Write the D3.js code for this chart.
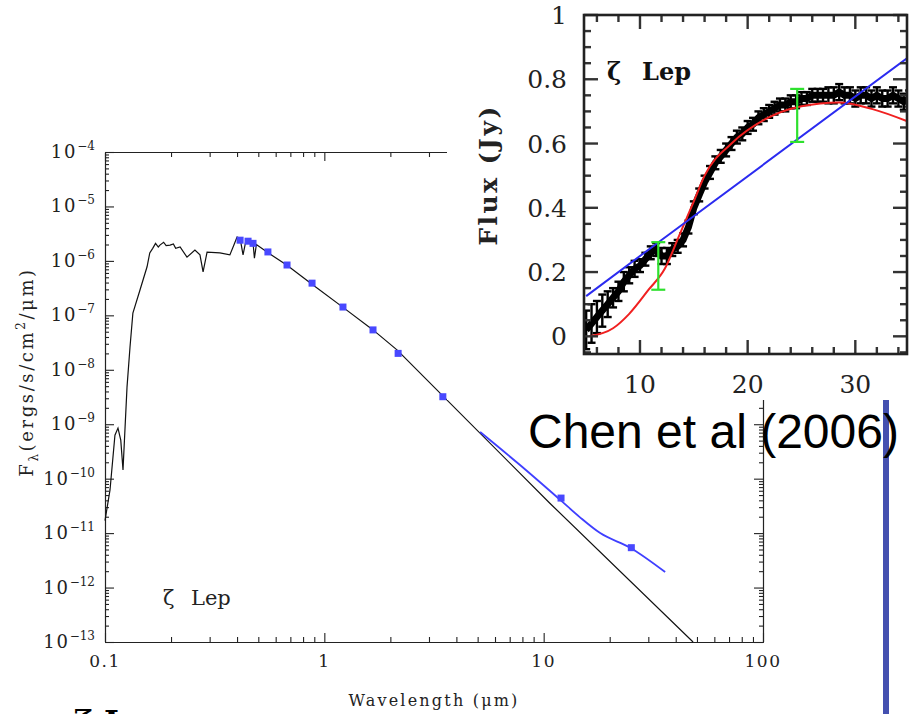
<!DOCTYPE html>
<html>
<head>
<meta charset="utf-8">
<script src="https://cdn.jsdelivr.net/npm/d3@7"></script>
<style>
  body { margin: 0; background: #fff; }
  svg { display: block; }
</style>
</head>
<body>
<svg id="chart" width="915" height="714"></svg>
<script>
// ---- main SED (log-log) ----
// model photosphere
const modelWave = [0.1, 0.1054, 0.111, 0.1146, 0.118, 0.1208, 0.126, 0.130, 0.134, 0.1445, 0.1555, 0.160, 0.165, 0.170, 0.175, 0.178, 0.185, 0.190, 0.198, 0.205, 0.210, 0.220, 0.2365, 0.257, 0.271, 0.280, 0.292, 0.334, 0.371, 0.387, 0.400, 0.413, 0.426, 0.440, 0.473, 0.480, 0.490, 0.548, 0.676, 0.888, 1.217, 1.667, 2.15, 10.7, 48];
const modelFlux = [1.7e-11, 6.2e-11, 6.3e-10, 8.5e-10, 5.1e-10, 1.45e-10, 4.8e-9, 2.6e-8, 1.1e-7, 2.95e-7, 7.8e-7, 1.4e-6, 1.7e-6, 2.1e-6, 1.8e-6, 1.95e-6, 2.2e-6, 1.9e-6, 1.95e-6, 2.05e-6, 1.7e-6, 1.8e-6, 1.17e-6, 1.58e-6, 1.29e-6, 6.3e-7, 1.45e-6, 1.4e-6, 1.29e-6, 1.95e-6, 2.75e-6, 2.6e-6, 1.29e-6, 2.45e-6, 2.15e-6, 1.12e-6, 2.0e-6, 1.45e-6, 8.3e-7, 3.6e-7, 1.4e-7, 5.4e-8, 2.3e-8, 3.5e-11, 1e-13];

// photometry (blue squares)
const photWave = [0.413, 0.449, 0.473, 0.553, 0.676, 0.879, 1.216, 1.667, 2.17, 3.47, 12.0, 25.1];
const photFlux = [2.4e-6, 2.3e-6, 2.1e-6, 1.46e-6, 8.4e-7, 3.9e-7, 1.42e-7, 5.4e-8, 2.0e-8, 3.2e-9, 4.4e-11, 5.4e-12];

// IRS spectrum with excess (blue line)
const irsWave = [5.13, 7.8, 11.9, 14.6, 18.1, 24.8, 35.8];
const irsFlux = [7.2e-10, 1.78e-10, 4.07e-11, 1.97e-11, 1.0e-11, 5.4e-12, 1.93e-12];

const xMajor = [0.1, 1, 10, 100];
const xTickLabels = ["0.1", "1", "10", "100"];
const yExponents = [-4, -5, -6, -7, -8, -9, -10, -11, -12, -13];

// ---- inset: IRS flux (Jy) vs wavelength ----
const specWave = [5, 5.5, 6, 6.5, 7, 7.5, 8, 8.5, 9, 9.5, 10, 10.5, 11, 11.5, 12, 12.5, 13, 13.5, 14, 14.5, 15, 15.5, 16, 16.5, 17, 17.5, 18, 18.5, 19, 19.5, 20, 20.5, 21, 21.5, 22, 22.5, 23, 23.5, 24, 24.5, 25, 25.5, 26, 26.5, 27, 27.5, 28, 28.5, 29, 29.5, 30, 30.5, 31, 31.5, 32, 32.5, 33, 33.5, 34, 34.5, 35];
const specFlux = [0.02, 0.04, 0.06, 0.08, 0.10, 0.12, 0.14, 0.17, 0.19, 0.21, 0.22, 0.24, 0.26, 0.27, 0.25, 0.25, 0.27, 0.28, 0.30, 0.34, 0.40, 0.44, 0.48, 0.51, 0.54, 0.56, 0.58, 0.60, 0.62, 0.63, 0.65, 0.66, 0.68, 0.69, 0.70, 0.71, 0.72, 0.72, 0.73, 0.73, 0.74, 0.74, 0.75, 0.75, 0.75, 0.75, 0.75, 0.76, 0.75, 0.75, 0.74, 0.75, 0.75, 0.74, 0.75, 0.74, 0.74, 0.75, 0.74, 0.73, 0.74];
const specErr = [0.06, 0.06, 0.05, 0.05, 0.04, 0.03, 0.03, 0.03, 0.025, 0.025, 0.02, 0.02, 0.02, 0.02, 0.025, 0.025, 0.02, 0.02, 0.02, 0.02, 0.02, 0.02, 0.02, 0.02, 0.02, 0.02, 0.02, 0.02, 0.02, 0.02, 0.02, 0.02, 0.02, 0.02, 0.02, 0.02, 0.02, 0.02, 0.02, 0.02, 0.02, 0.02, 0.02, 0.02, 0.02, 0.025, 0.025, 0.025, 0.025, 0.025, 0.025, 0.025, 0.025, 0.025, 0.025, 0.025, 0.025, 0.025, 0.025, 0.025, 0.025];

const redWave = [5.3, 7.5, 9, 10.8, 12.3, 13.6, 15, 16, 18.5, 21.6, 25, 28.5, 31.6, 35];
const redFlux = [0.0, 0.025, 0.07, 0.145, 0.21, 0.31, 0.42, 0.5, 0.6, 0.675, 0.716, 0.728, 0.707, 0.667];

const blueWave = [5, 12, 35];
const blueFlux = [0.125, 0.30, 0.87];

const greenWave = [11.7, 24.6];
const greenLow = [0.145, 0.605];
const greenHigh = [0.293, 0.77];

const svg = d3.select("#chart");
const serif = "'DejaVu Serif', serif";

// ================= main chart =================
const x = d3.scaleLog().domain([0.1, 100]).range([105, 763]);
const y = d3.scaleLog().domain([1e-13, 1e-4]).range([642, 152]);

const minorX = [];
[0.1, 1, 10].forEach(d => { for (let k = 2; k <= 9; k++) minorX.push(d * k); });
const minorY = [];
yExponents.slice(1).forEach(e => { for (let k = 2; k <= 9; k++) minorY.push(k * Math.pow(10, e)); });
const majorY = yExponents.map(e => Math.pow(10, e));

const main = svg.append("g");

function styleAxis(g) {
  g.selectAll("path,line").attr("stroke", "#222").attr("stroke-width", 1.1);
  g.selectAll("text").remove();
}

// bottom & top
main.append("g").attr("transform", "translate(0,642)")
  .call(d3.axisBottom(x).tickValues(xMajor).tickSizeInner(-9).tickSizeOuter(0).tickFormat(""))
  .call(styleAxis);
main.append("g").attr("transform", "translate(0,642)")
  .call(d3.axisBottom(x).tickValues(minorX).tickSizeInner(-5).tickSizeOuter(0).tickFormat(""))
  .call(styleAxis);
main.append("g").attr("transform", "translate(0,152)")
  .call(d3.axisTop(x).tickValues(xMajor).tickSizeInner(-9).tickSizeOuter(0).tickFormat(""))
  .call(styleAxis);
main.append("g").attr("transform", "translate(0,152)")
  .call(d3.axisTop(x).tickValues(minorX).tickSizeInner(-5).tickSizeOuter(0).tickFormat(""))
  .call(styleAxis);
// left & right
main.append("g").attr("transform", "translate(105,0)")
  .call(d3.axisLeft(y).tickValues(majorY).tickSizeInner(-9).tickSizeOuter(0).tickFormat(""))
  .call(styleAxis);
main.append("g").attr("transform", "translate(105,0)")
  .call(d3.axisLeft(y).tickValues(minorY).tickSizeInner(-4).tickSizeOuter(0).tickFormat(""))
  .call(styleAxis);
main.append("g").attr("transform", "translate(763,0)")
  .call(d3.axisRight(y).tickValues(majorY).tickSizeInner(-9).tickSizeOuter(0).tickFormat(""))
  .call(styleAxis);
main.append("g").attr("transform", "translate(763,0)")
  .call(d3.axisRight(y).tickValues(minorY).tickSizeInner(-4).tickSizeOuter(0).tickFormat(""))
  .call(styleAxis);

// x tick labels
main.append("g").selectAll("text")
  .data(xMajor)
  .enter().append("text")
  .attr("x", d => x(d))
  .attr("y", 667)
  .attr("text-anchor", "middle")
  .attr("font-family", serif)
  .attr("font-size", 17)
  .attr("letter-spacing", 1.5)
  .attr("fill", "#222")
  .text((d, i) => xTickLabels[i]);

// y tick labels 10^n
const yl = main.append("g").selectAll("text")
  .data(yExponents)
  .enter().append("text")
  .attr("x", 95)
  .attr("y", d => y(Math.pow(10, d)) + 6)
  .attr("text-anchor", "end")
  .attr("font-family", serif)
  .attr("fill", "#222");
yl.append("tspan").attr("font-size", 18).attr("letter-spacing", 1.8).text("10");
yl.append("tspan").attr("font-size", 12).attr("dy", -8).text(d => "\u2212" + Math.abs(d));

// axis titles
main.append("text")
  .attr("x", 434).attr("y", 706)
  .attr("text-anchor", "middle")
  .attr("font-family", serif).attr("font-size", 16).attr("letter-spacing", 2.2)
  .attr("fill", "#222")
  .text("Wavelength (\u03BCm)");

const yt = main.append("text")
  .attr("transform", "translate(33,372) rotate(-90)")
  .attr("text-anchor", "middle")
  .attr("font-family", serif).attr("font-size", 18).attr("letter-spacing", 2.6)
  .attr("fill", "#222");
yt.append("tspan").text("F");
yt.append("tspan").attr("font-size", 12).attr("dy", 5).text("\u03BB");
yt.append("tspan").attr("dy", -5).text("(ergs/s/cm");
yt.append("tspan").attr("font-size", 12).attr("dy", -8).text("2");
yt.append("tspan").attr("dy", 8).text("/\u03BCm)");

const zl = main.append("text")
  .attr("x", 163).attr("y", 605)
  .attr("font-family", serif).attr("font-size", 21)
  .attr("fill", "#222");
zl.append("tspan").text("\u03B6");
zl.append("tspan").attr("x", 191).text("Lep");

// model line
const modelData = modelWave.map((w, i) => ({ w, f: modelFlux[i] }));
main.append("path")
  .datum(modelData)
  .attr("fill", "none")
  .attr("stroke", "#111")
  .attr("stroke-width", 1.2)
  .attr("d", d3.line().x(d => x(d.w)).y(d => y(d.f)));

// IRS blue line
const irsData = irsWave.map((w, i) => ({ w, f: irsFlux[i] }));
main.append("path")
  .datum(irsData)
  .attr("fill", "none")
  .attr("stroke", "#3f3fff")
  .attr("stroke-width", 1.8)
  .attr("d", d3.line().curve(d3.curveMonotoneX).x(d => x(d.w)).y(d => y(d.f)));

// photometry squares
main.append("g").selectAll("rect")
  .data(photWave.map((w, i) => ({ w, f: photFlux[i] })))
  .enter().append("rect")
  .attr("x", d => x(d.w) - 3.5)
  .attr("y", d => y(d.f) - 3.5)
  .attr("width", 7).attr("height", 7)
  .attr("fill", "#4848ff");

// large label partially cut at the bottom (as in the reference)
svg.append("text")
  .attr("x", 74).attr("y", 733)
  .attr("font-family", serif).attr("font-size", 32).attr("font-weight", "bold")
  .attr("fill", "#000")
  .text("\u03B6 Lep");

// ================= inset =================
const inset = svg.append("g");
inset.append("rect")
  .attr("x", 447).attr("y", 0).attr("width", 468).attr("height", 400)
  .attr("fill", "#fff");

const ix = d3.scaleLinear().domain([4.8, 34.8]).range([584, 907]);
const iy = d3.scaleLinear().domain([-0.055, 1]).range([354, 15]);

svg.append("defs").append("clipPath").attr("id", "insetClip")
  .append("rect").attr("x", 584).attr("y", 15).attr("width", 323).attr("height", 339);

const plot = inset.append("g").attr("clip-path", "url(#insetClip)");

// black spectrum with error bars
const spec = specWave.map((w, i) => ({ w, f: specFlux[i], e: specErr[i] }));
const sp = plot.append("g").attr("stroke", "#000").attr("stroke-width", 2.4);
sp.selectAll(".eb").data(spec).enter().append("line")
  .attr("x1", d => ix(d.w)).attr("x2", d => ix(d.w))
  .attr("y1", d => iy(d.f - d.e)).attr("y2", d => iy(d.f + d.e));
sp.selectAll(".ct").data(spec).enter().append("line")
  .attr("x1", d => ix(d.w) - 4).attr("x2", d => ix(d.w) + 4)
  .attr("y1", d => iy(d.f + d.e)).attr("y2", d => iy(d.f + d.e));
sp.selectAll(".cb").data(spec).enter().append("line")
  .attr("x1", d => ix(d.w) - 4).attr("x2", d => ix(d.w) + 4)
  .attr("y1", d => iy(d.f - d.e)).attr("y2", d => iy(d.f - d.e));
plot.append("path")
  .datum(spec)
  .attr("fill", "none").attr("stroke", "#000").attr("stroke-width", 7)
  .attr("d", d3.line().x(d => ix(d.w)).y(d => iy(d.f)));

// red fit
plot.append("path")
  .datum(redWave.map((w, i) => ({ w, f: redFlux[i] })))
  .attr("fill", "none").attr("stroke", "#f02020").attr("stroke-width", 2)
  .attr("d", d3.line().curve(d3.curveMonotoneX).x(d => ix(d.w)).y(d => iy(d.f)));

// blue fit
plot.append("path")
  .datum(blueWave.map((w, i) => ({ w, f: blueFlux[i] })))
  .attr("fill", "none").attr("stroke", "#2b2bf0").attr("stroke-width", 2)
  .attr("d", d3.line().x(d => ix(d.w)).y(d => iy(d.f)));

// green error bars
const gb = plot.append("g").attr("stroke", "#2ee02e").attr("stroke-width", 2.2);
greenWave.forEach((w, i) => {
  gb.append("line").attr("x1", ix(w)).attr("x2", ix(w)).attr("y1", iy(greenLow[i])).attr("y2", iy(greenHigh[i]));
  [greenLow[i], greenHigh[i]].forEach(v => {
    gb.append("line").attr("x1", ix(w) - 7).attr("x2", ix(w) + 7).attr("y1", iy(v)).attr("y2", iy(v));
  });
});

// inset frame and ticks
const insetMajorX = [10, 20, 30];
const insetMinorX = [6, 8, 12, 14, 16, 18, 22, 24, 26, 28, 32, 34];
const insetMajorY = [0, 0.2, 0.4, 0.6, 0.8, 1];
const insetMinorY = [-0.05, 0.05, 0.1, 0.15, 0.25, 0.3, 0.35, 0.45, 0.5, 0.55, 0.65, 0.7, 0.75, 0.85, 0.9, 0.95];

const tk = inset.append("g").attr("stroke", "#333").attr("stroke-width", 2.4);
function xTicks(vals, len) {
  tk.selectAll(null).data(vals).enter().append("line")
    .attr("x1", d => ix(d)).attr("x2", d => ix(d)).attr("y1", 354).attr("y2", 354 - len);
  tk.selectAll(null).data(vals).enter().append("line")
    .attr("x1", d => ix(d)).attr("x2", d => ix(d)).attr("y1", 15).attr("y2", 15 + len);
}
function yTicks(vals, len) {
  tk.selectAll(null).data(vals).enter().append("line")
    .attr("y1", d => iy(d)).attr("y2", d => iy(d)).attr("x1", 584).attr("x2", 584 + len);
  tk.selectAll(null).data(vals).enter().append("line")
    .attr("y1", d => iy(d)).attr("y2", d => iy(d)).attr("x1", 907).attr("x2", 907 - len);
}
xTicks(insetMajorX, 14);
xTicks(insetMinorX, 7);
yTicks(insetMajorY, 14);
yTicks(insetMinorY, 7);

inset.append("rect")
  .attr("x", 584).attr("y", 15).attr("width", 323).attr("height", 339)
  .attr("fill", "none").attr("stroke", "#222").attr("stroke-width", 2.6);

inset.append("g").selectAll("text")
  .data(insetMajorX).enter().append("text")
  .attr("x", d => ix(d)).attr("y", 393)
  .attr("text-anchor", "middle")
  .attr("font-family", serif).attr("font-size", 25).attr("fill", "#222")
  .text(d => d);
inset.append("g").selectAll("text")
  .data(insetMajorY).enter().append("text")
  .attr("x", 567).attr("y", d => iy(d) + 9)
  .attr("text-anchor", "end")
  .attr("font-family", serif).attr("font-size", 25).attr("fill", "#222")
  .text(d => d);

inset.append("text")
  .attr("transform", "translate(497,175) rotate(-90)")
  .attr("text-anchor", "middle")
  .attr("font-family", serif).attr("font-size", 25).attr("font-weight", "bold")
  .attr("letter-spacing", 2.5).attr("fill", "#222")
  .text("Flux  (Jy)");

const il = inset.append("text")
  .attr("x", 607).attr("y", 80)
  .attr("font-family", serif).attr("font-size", 24).attr("font-weight", "bold")
  .attr("fill", "#111");
il.append("tspan").text("\u03B6");
il.append("tspan").attr("x", 642).text("Lep");

// ================= overlay =================
svg.append("rect")
  .attr("x", 883).attr("y", 400).attr("width", 6).attr("height", 314)
  .attr("fill", "#4450b0");

svg.append("text")
  .attr("x", 528).attr("y", 448)
  .attr("font-family", "'Liberation Sans', Arial, sans-serif")
  .attr("font-size", 48)
  .attr("fill", "#000")
  .text("Chen et al (2006)");
</script>
</body>
</html>
